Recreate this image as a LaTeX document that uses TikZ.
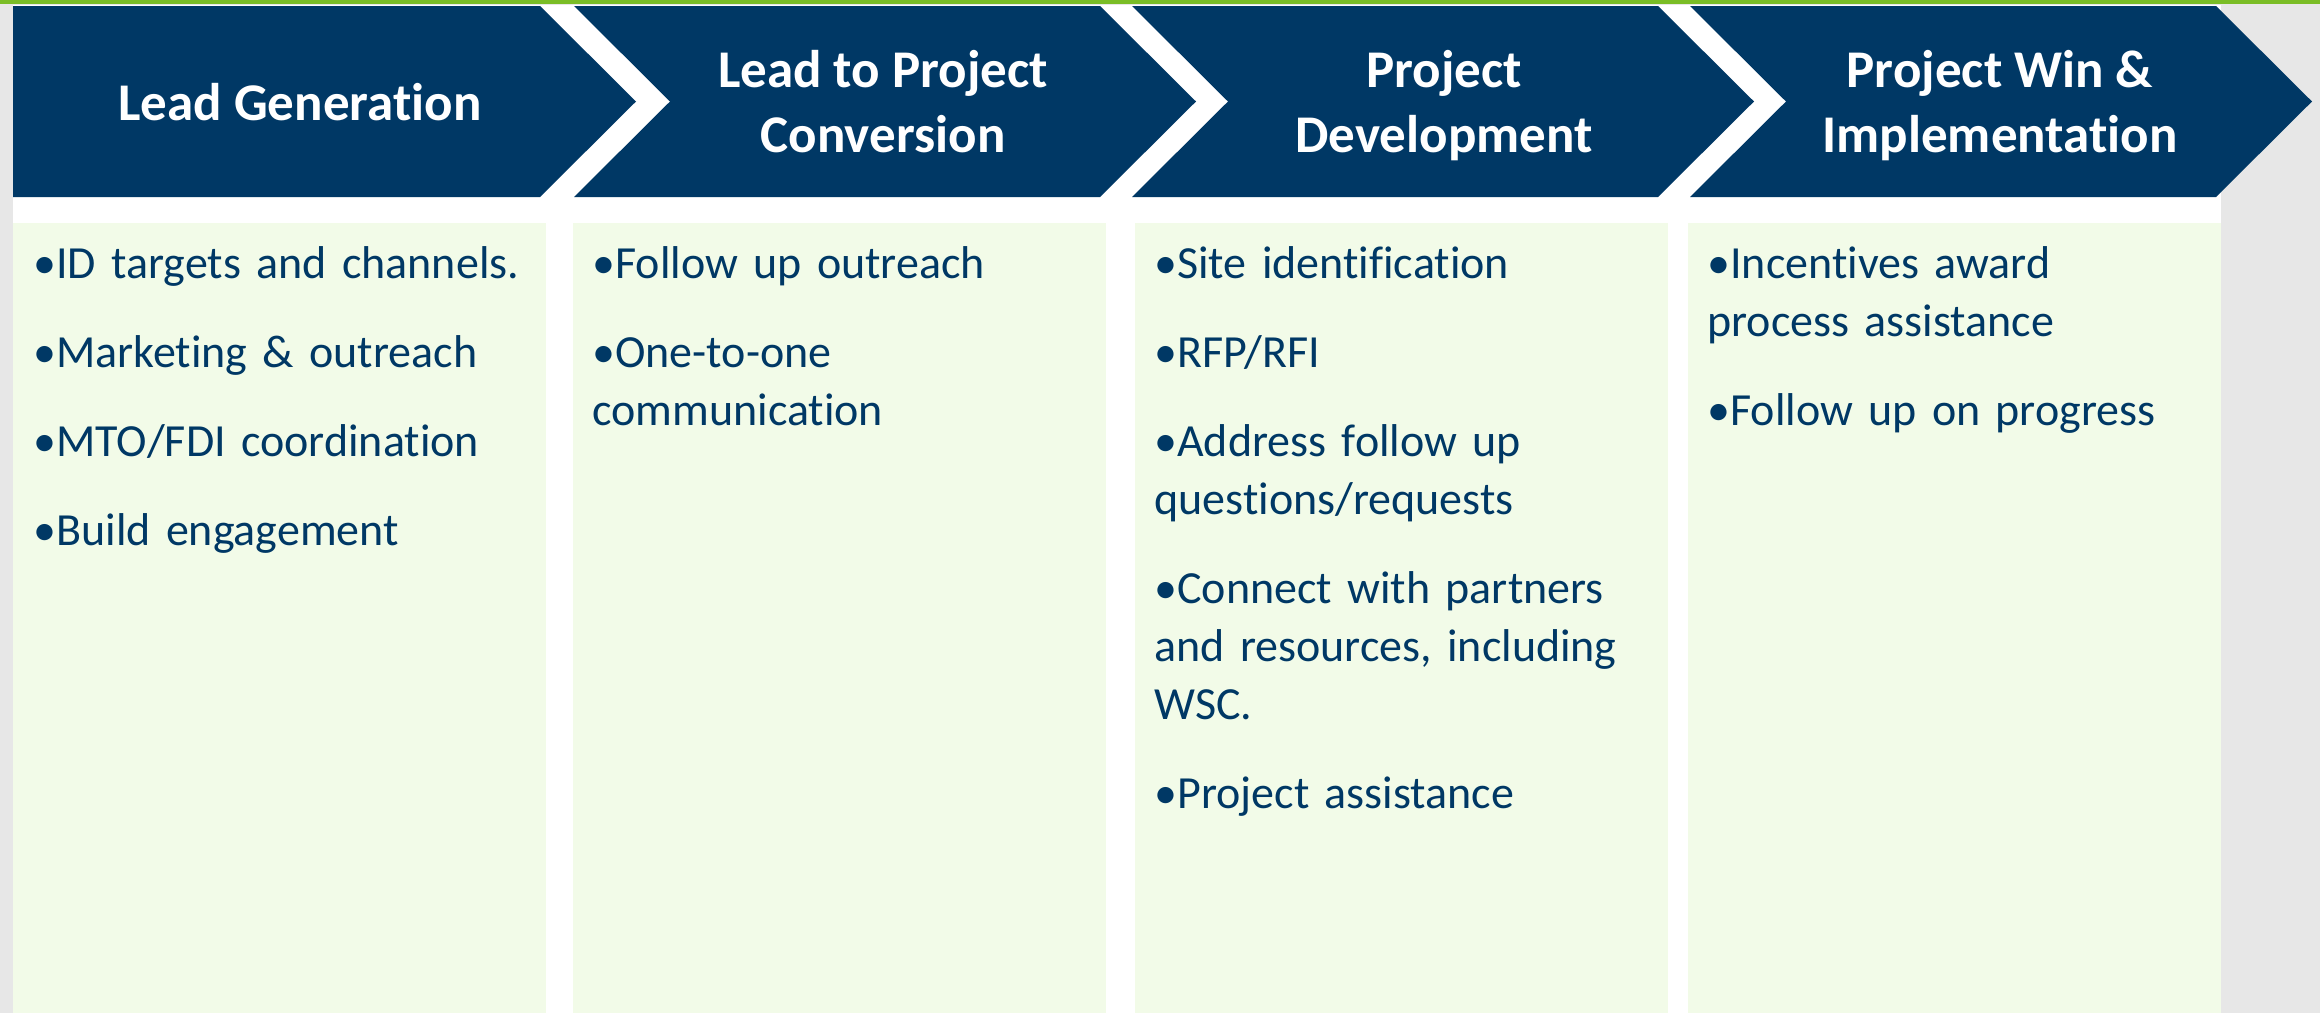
\documentclass[tikz,border=0pt]{standalone}
\usepackage{fontspec}
\setmainfont{Carlito}[Ligatures=NoCommon]
\usetikzlibrary{positioning}
\definecolor{navy}{RGB}{0,56,101}
\definecolor{palegreen}{RGB}{242,251,232}
\definecolor{lime}{RGB}{122,189,38}
\definecolor{bggrey}{RGB}{231,231,231}

\begin{document}
\begin{tikzpicture}[x=0.5pt, y=-0.5pt,
  title/.style = {text=white, align=center, inner sep=0pt,
    font=\fontsize{26.5}{32.5}\selectfont\bfseries},
  column/.style = {fill=palegreen, draw=none, anchor=north west,
    minimum width=266.5pt, minimum height=395pt, inner sep=0pt},
  items/.style = {anchor=base west, text=navy, align=left,
    text width=250pt, inner sep=0pt,
    font=\fontsize{23}{29}\selectfont}]
  \fill[bggrey] (0,0) rectangle (2320,1013);
  \useasboundingbox (0,0) rectangle (2320,1013);
  \fill[white] (13,5) rectangle (2221,1013);
  \fill[lime] (0,0) rectangle (2320,4);
  % chevrons
  \fill[navy] (13,6) -- (540,6) -- (636,101.5) -- (540,197) -- (13,197) -- cycle;
  \foreach \x in {574,1132,1690}
    \fill[navy] (\x,6) -- (\x+526,6) -- (\x+622,101.5) -- (\x+526,197)
      -- (\x,197) -- (\x+96,101.5) -- cycle;
  \node[title] (lead) at (300,107) {Lead Generation\strut};
  \node[title] (convert) at (883,107) {Lead to Project\strut\\Conversion\strut};
  \node[title] (develop) at (1444,107) {Project\strut\\Development\strut};
  \node[title] (win) at (2000,107) {Project Win \&\strut\\Implementation\strut};
  % columns
  \node[column] (col1) at (13,223) {};
  \node[column] (col2) at (573,223) {};
  \node[column] (col3) at (1135,223) {};
  \node[column] (col4) at (1688,223) {};
  \node[items] (list1) at (33,278) {%
    •ID targets and channels.\\[15.5pt]
    •Marketing \& outreach\\[15.5pt]
    •MTO/FDI coordination\\[15.5pt]
    •Build engagement};
  \node[items] (list2) at (592,278) {%
    •Follow up outreach\\[15.5pt]
    •One-to-one\\communication};
  \node[items] (list3) at (1154,278) {%
    •Site identification\\[15.5pt]
    •RFP/RFI\\[15.5pt]
    •Address follow up\\questions/requests\\[15.5pt]
    •Connect with partners\\and resources, including\\WSC.\\[15.5pt]
    •Project assistance};
  \node[items] (list4) at (1707,278) {%
    •Incentives award\\process assistance\\[15.5pt]
    •Follow up on progress};
\end{tikzpicture}
\end{document}
